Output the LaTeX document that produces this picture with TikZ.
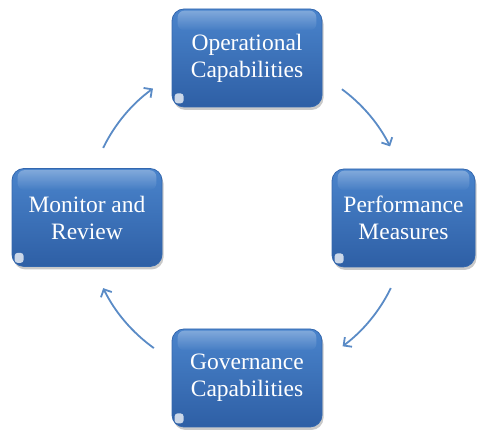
\documentclass[tikz,border=0pt]{standalone}
\usepackage{fontspec}
\setmainfont{Liberation Serif}
\usetikzlibrary{arrows.meta,shadows,calc,fadings}
\definecolor{boxtop}{HTML}{4A84CC}
\definecolor{boxmid}{HTML}{3A6EB6}
\definecolor{boxbot}{HTML}{2E5FA5}
\definecolor{boxedge}{HTML}{3367AE}
\definecolor{arrowc}{HTML}{5A8BC6}
\tikzset{
  capbox/.style={rounded corners=12pt, minimum width=150pt, minimum height=98pt,
    top color=boxtop, middle color=boxmid, bottom color=boxbot,
    draw=boxedge, line width=0.8pt, text=white,
    font=\fontsize{23.5}{27}\selectfont, align=center, inner sep=0pt,
    drop shadow={shadow xshift=1.5pt, shadow yshift=-3pt, opacity=0.3, fill=black!70}},
  gloss/.style={fill=white, opacity=0.3, path fading=south, rounded corners=7pt},
  spot/.style={fill=white, opacity=0.75},
  cyc/.style={draw=arrowc, line width=1.8pt, -{Straight Barb[length=6pt,width=12pt]}}
}
\begin{document}
\begin{tikzpicture}[x=1pt,y=1pt]
\useasboundingbox (0,0) rectangle (477,430);
\node[capbox] (op) at (247,372) {Operational\\Capabilities};
\node[capbox, minimum width=143pt] (pm) at (403.5,212) {Performance\\Measures};
\node[capbox] (gv) at (247,52) {Governance\\Capabilities};
\node[capbox] (mr) at (87,212.5) {Monitor and\\Review};
\foreach \n in {op,pm,gv,mr}{
  \fill[gloss] ([shift={(6pt,-2pt)}]\n.north west) rectangle ([shift={(-6pt,-22pt)}]\n.north east);
  \fill[spot, rounded corners=3pt] ([shift={(3pt,4pt)}]\n.south west) rectangle ([shift={(12pt,14pt)}]\n.south west);
}
\coordinate (ctr) at (247,212);
\coordinate (a1) at ($(ctr)+(53.6:160pt)$);
\coordinate (a2) at ($(ctr)+(-26:160pt)$);
\coordinate (a3) at ($(ctr)+(234.4:160pt)$);
\coordinate (a4) at ($(ctr)+(154:160pt)$);
\draw[cyc] (a1) arc[start angle=53.6, end angle=26.6, radius=160pt];
\draw[cyc] (a2) arc[start angle=-26, end angle=-53.3, radius=160pt];
\draw[cyc] (a3) arc[start angle=234.4, end angle=206, radius=160pt];
\draw[cyc] (a4) arc[start angle=154, end angle=126, radius=160pt];
\end{tikzpicture}
\end{document}
